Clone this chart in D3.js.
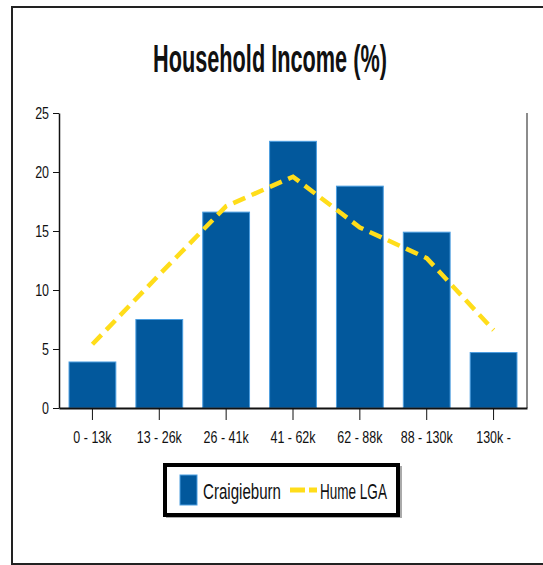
<!DOCTYPE html>
<html>
<head>
<meta charset="utf-8">
<script src="https://cdn.jsdelivr.net/npm/d3@7"></script>
<style>
  body { margin: 0; background: #fff; }
  text { font-family: "Liberation Sans", Arial, sans-serif; fill: #111; }
  .axis path, .axis line { stroke: #111; }
</style>
</head>
<body>
<svg width="543" height="565"></svg>
<script>
// data
const categories = ["0 - 13k", "13 - 26k", "26 - 41k", "41 - 62k", "62 - 88k", "88 - 130k", "130k -"];
const craigieburn = [3.9, 7.5, 16.6, 22.6, 18.8, 14.9, 4.7];
const humeLGA = [5.4, 11.3, 17.1, 19.6, 15.3, 12.7, 6.6];
const yTicks = [0, 5, 10, 15, 20, 25];

const margin = {top: 113, right: 16, bottom: 157, left: 59};
const W = 543, H = 565;
let w = W - margin.left - margin.right;
let h = H - margin.top - margin.bottom;

// the original uses a tall narrow face, so squeeze text sideways
const squeeze = 0.78;

// squeeze a text (anchored at x0) so it spans the given width
function fitWidth(t, x0, width) {
  const len = t.node().getComputedTextLength();
  const k = width / len;
  t.attr("x", x0 / k).attr("transform", "scale(" + k + ",1)");
}

const svg = d3.select("svg");

// outer frame (right edge falls off the picture)
svg.append("rect")
  .attr("x", 12).attr("y", 7)
  .attr("width", 560).attr("height", 557)
  .attr("fill", "none").attr("stroke", "#222").attr("stroke-width", 2);

const title = svg.append("text")
  .attr("y", 72)
  .attr("text-anchor", "middle")
  .attr("font-size", 38).attr("font-weight", "bold")
  .text("Household Income (%)");
fitWidth(title, 270, 234);

const chart = svg.append("g")
  .attr("transform", "translate(" + margin.left + "," + margin.top + ")");

const x = d3.scaleBand().domain(categories).range([0, w]).paddingInner(0.3).paddingOuter(0.15);
const y = d3.scaleLinear().domain([0, 25]).range([h, 0]);

// right border of plot
chart.append("line")
  .attr("x1", w).attr("x2", w).attr("y1", 0).attr("y2", h)
  .attr("stroke", "#666").attr("stroke-width", 1.5);

chart.selectAll("rect.bar")
  .data(craigieburn)
  .enter()
  .append("rect")
    .attr("class", "bar")
    .attr("x", (d, i) => x(categories[i]))
    .attr("y", (d) => y(d))
    .attr("width", x.bandwidth())
    .attr("height", (d) => h - y(d))
    .attr("fill", "#02589c")
    .attr("stroke", "#4a9de0")
    .attr("stroke-width", 1);

const line = d3.line()
  .x((d, i) => x(categories[i]) + x.bandwidth() / 2)
  .y((d) => y(d));

chart.append("path")
  .datum(humeLGA)
  .attr("d", line)
  .attr("fill", "none")
  .attr("stroke", "#ffdd1a")
  .attr("stroke-width", 4.5)
  .attr("stroke-dasharray", "13,7");

// y axis
const yAxis = chart.append("g").attr("class", "axis")
  .call(d3.axisLeft(y).tickValues(yTicks).tickSize(6).tickSizeOuter(0));
yAxis.select(".domain").attr("stroke-width", 1.5);
yAxis.selectAll("text")
  .attr("font-size", 16)
  .attr("x", -10 / squeeze)
  .attr("transform", "scale(" + squeeze + ",1)");

// x axis
const xAxis = chart.append("g").attr("class", "axis")
  .attr("transform", "translate(0," + h + ")")
  .call(d3.axisBottom(x).tickSize(12).tickSizeOuter(0));
xAxis.select(".domain").attr("stroke-width", 2);
xAxis.selectAll("text")
  .attr("font-size", 16)
  .attr("y", 35).attr("dy", null)
  .attr("transform", "scale(" + squeeze + ",1)");

// legend
const legend = svg.append("g").attr("transform", "translate(165,465)");
legend.append("rect")
  .attr("x", 2).attr("y", 2).attr("width", 234).attr("height", 50)
  .attr("fill", "none").attr("stroke", "#aaa").attr("stroke-width", 2);
legend.append("rect")
  .attr("width", 233).attr("height", 50)
  .attr("fill", "#fff").attr("stroke", "#000").attr("stroke-width", 4);
legend.append("rect")
  .attr("x", 15).attr("y", 10).attr("width", 17).attr("height", 30)
  .attr("fill", "#02589c").attr("stroke", "#4a9de0");
const lab1 = legend.append("text")
  .attr("y", 34).attr("font-size", 22)
  .text("Craigieburn");
fitWidth(lab1, 38, 78);
legend.append("line")
  .attr("x1", 125).attr("x2", 152).attr("y1", 25).attr("y2", 25)
  .attr("stroke", "#ffdd1a").attr("stroke-width", 5)
  .attr("stroke-dasharray", "15,4");
const lab2 = legend.append("text")
  .attr("y", 34).attr("font-size", 22)
  .text("Hume LGA");
fitWidth(lab2, 155, 67);
</script>
</body>
</html>
